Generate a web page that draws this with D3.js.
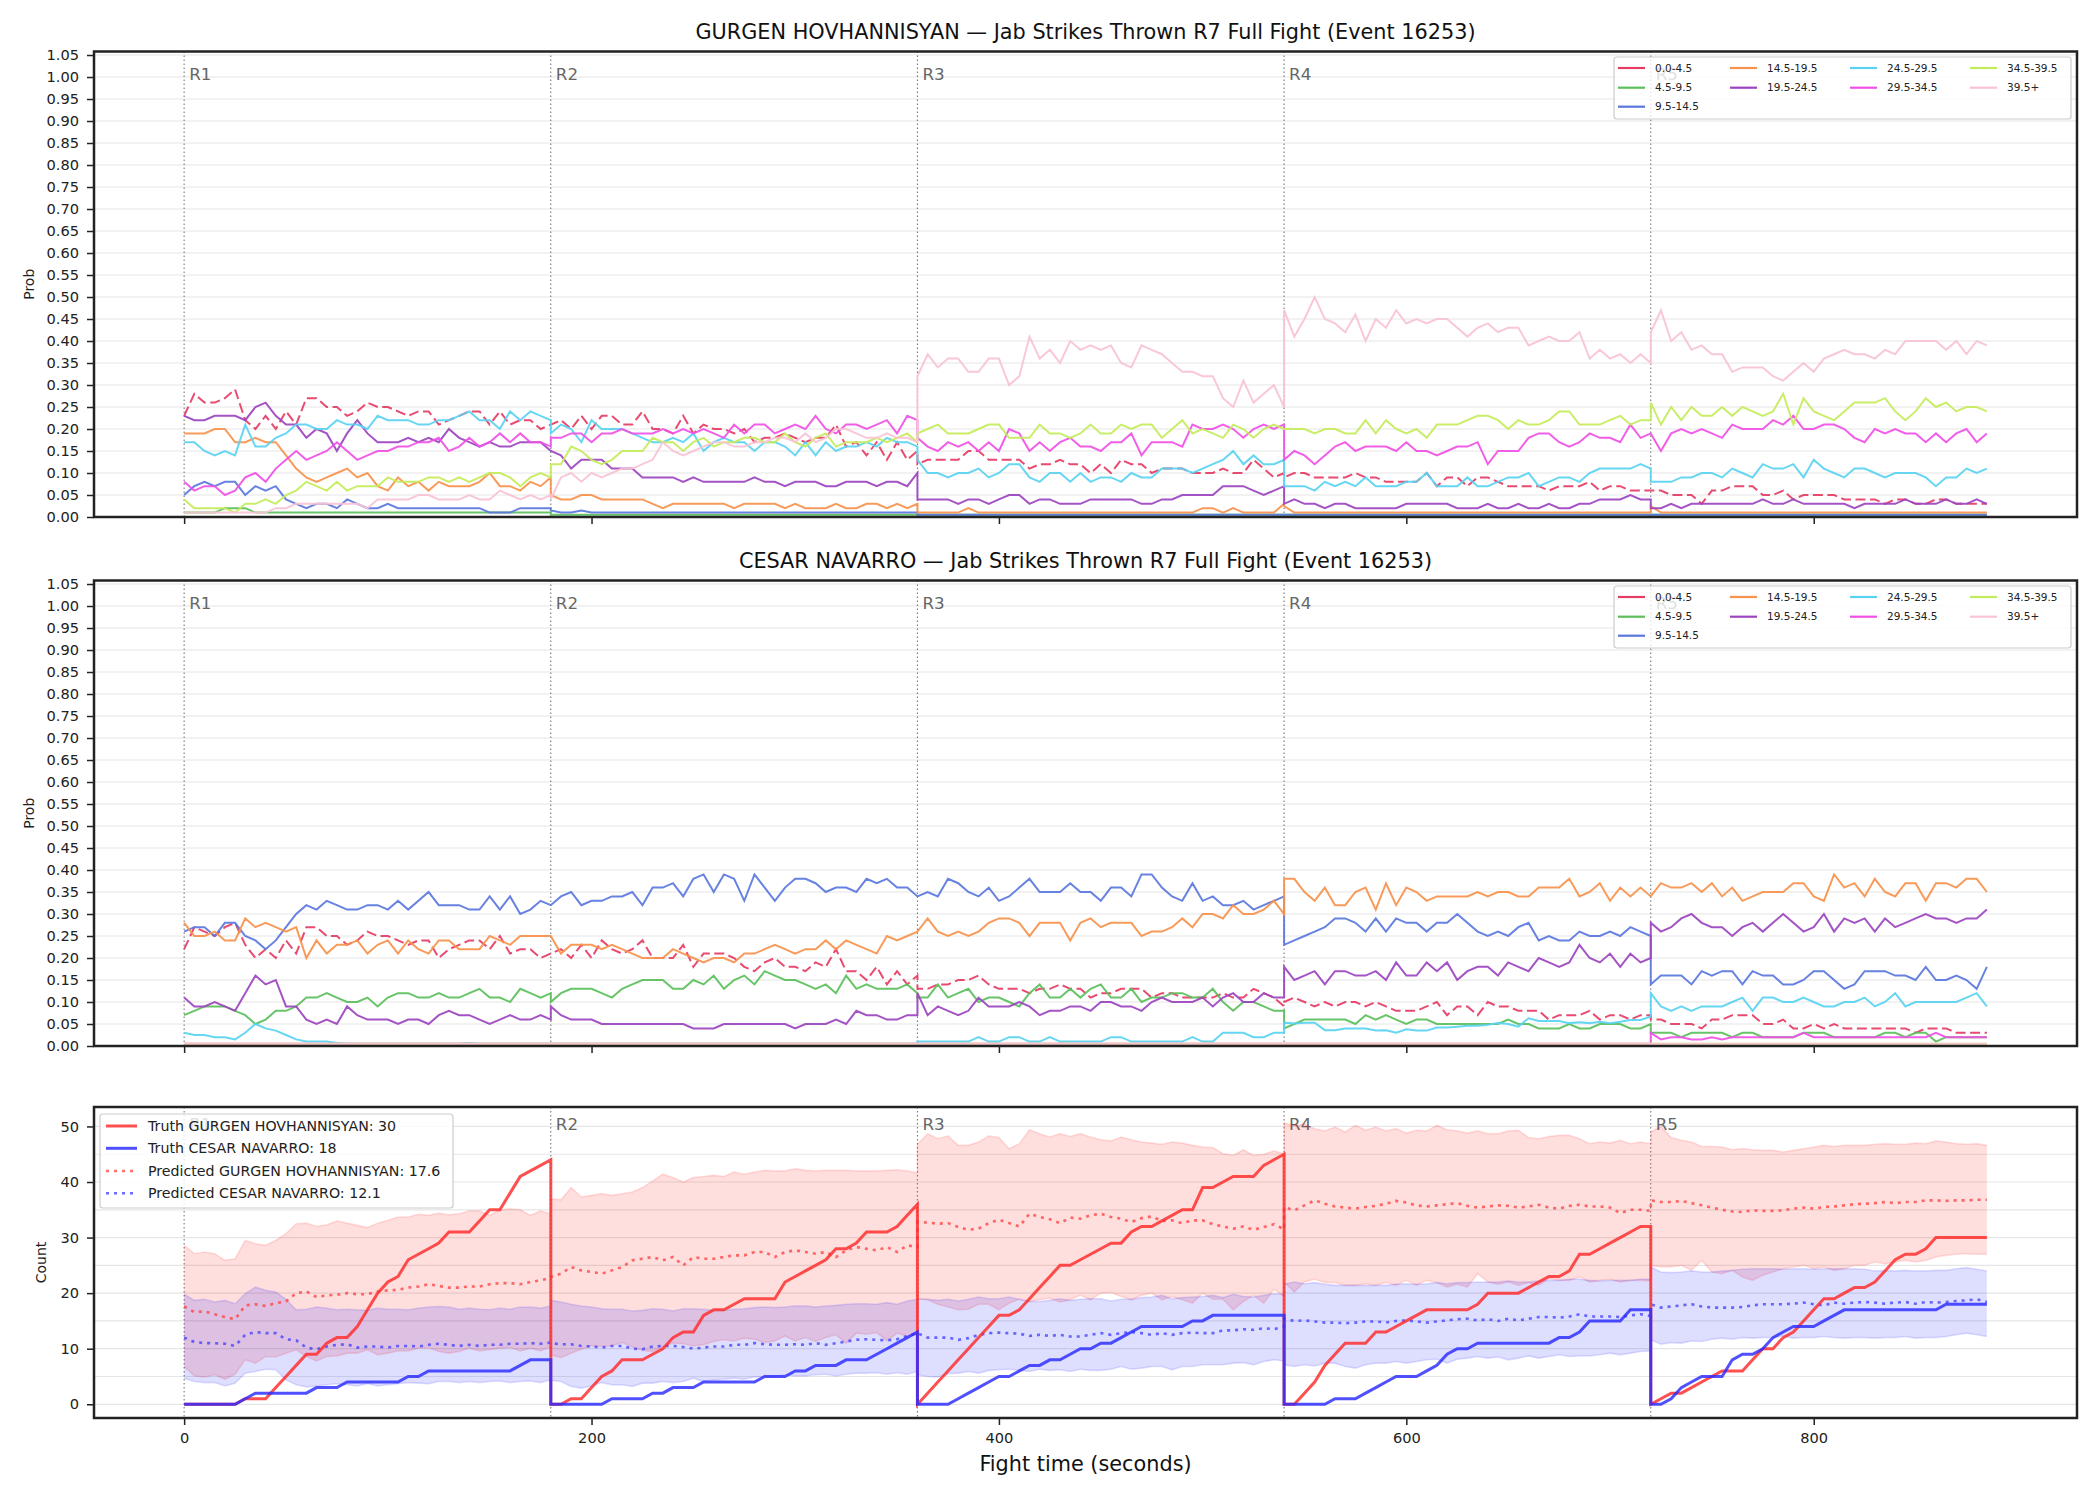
<!DOCTYPE html>
<html lang="en">
<head>
<meta charset="UTF-8">
<title>Jab Strikes Thrown R7 Full Fight (Event 16253)</title>
<style>
  body { margin: 0; background: #fff; }
  svg { display: block; font-family: "DejaVu Sans", sans-serif; }
</style>
<script src="https://d3js.org/d3.v7.min.js"></script>
</head>
<body>
<svg width="2100" height="1500"></svg>
<script>
// ---- rounds / sampling ----
const ROUND_STARTS = [0, 180, 360, 540, 720];
const STEP = 5;           // seconds between samples
const xTicks = [0, 200, 400, 600, 800];

const buckets = ["0.0-4.5", "4.5-9.5", "9.5-14.5", "14.5-19.5", "19.5-24.5", "24.5-29.5", "29.5-34.5", "34.5-39.5", "39.5+"];
const bucketColors = ["#e63c64", "#5bbf5b", "#5a77dd", "#f7934c", "#9c44bf", "#5ad3f2", "#f050e6", "#c4eb5a", "#f9c3d5"];

// near-zero readings (~0.5 %)
const low37 = [0.5,0.5,0.5,0.5,0.5,0.5,0.5,0.5,0.5,0.5,0.5,0.5,0.5,0.5,0.5,0.5,0.5,0.5,0.5,0.5,0.5,0.5,0.5,0.5,0.5,0.5,0.5,0.5,0.5,0.5,0.5,0.5,0.5,0.5,0.5,0.5,0.5];
const low34 = [0.5,0.5,0.5,0.5,0.5,0.5,0.5,0.5,0.5,0.5,0.5,0.5,0.5,0.5,0.5,0.5,0.5,0.5,0.5,0.5,0.5,0.5,0.5,0.5,0.5,0.5,0.5,0.5,0.5,0.5,0.5,0.5,0.5,0.5];

// ---- GURGEN HOVHANNISYAN probabilities (percent), one array per round ----
const gurgen00 = [
  [23,28,26,26,27,29,22,20,23,20,24,21,27,27,25,25,23,24,26,25,25,24,23,24,24,21,22,23,24,24,21,24,21,22,22,20,21],
  [21,22,20,23,20,23,23,21,21,24,20,20,19,23,19,21,20,20,19,20,17,18,18,19,18,17,18,18,21,16,17,14,17,13,17,13,15],
  [12,13,13,13,13,15,15,13,13,13,13,11,12,12,13,12,12,10,12,10,13,12,12,10,11,11,11,10,10,10,11,10,10,13,11,9,10],
  [9,10,10,9,9,9,9,10,9,9,8,8,8,8,10,7,9,9,7,9,9,8,7,7,7,7,6,7,7,7,8,6,7,7,6,6,6],
  [6,6,5,5,5,3,6,6,7,7,7,5,5,6,4,5,5,5,5,4,4,4,4,3,4,4,3,3,4,4,3,3,3,3]
];
const gurgen45 = [
  [1,1,1,1,2,2,2,1,1,1,1,1,1,1,1,1,1,1,1,1,1,1,1,1,1,1,1,1,1,1,1,1,1,1,1,1,1],
  low37, low37, low37, low34
];
const gurgen95 = [
  [5,7,8,7,8,8,5,7,6,7,4,3,2,3,3,2,4,3,2,2,3,2,2,2,2,2,2,2,2,2,1,1,1,2,2,2,2],
  [1.5,1,1,1.5,1,1,1,1,1,1,1,1,1,1,1,1,1,1,1,1,1,1,1,1,1,1,1,1,1,1,1,1,1,1,1,1,1],
  low37, low37, low34
];
const gurgen145 = [
  [19,19,19,20,20,17,17,18,17,17,14,11,9,8,9,10,11,9,10,7,6,9,7,8,6,8,7,7,7,8,10,7,7,6,8,7,9],
  [5,4,4,5,5,4,4,4,4,4,3,2,3,3,3,3,3,3,2,3,3,3,3,2,3,2,2,2,3,2,2,3,3,2,3,2,3],
  [1,1,1,1,1,2,1,1,1,1,1,1,1,1,1,1,1,1,1,1,1,1,1,1,1,1,1,1,2,2,1,2,1,1,1,1,3],
  [2.5,1,1,1,1,1,1,1,1,1,1,1,1,1,1,1,1,1,1,1,1,1,1,1,1,1,1,1,1,1,1,1,1,1,1,1,1],
  [2.5,1,1,1,1,1,1,1,1,1,1,1,1,1,1,1,1,1,1,1,1,1,1,1,1,1,1,1,1,1,1,1,1,1]
];
const gurgen195 = [
  [23,22,22,23,23,23,22,25,26,23,21,21,18,20,19,15,19,22,19,17,17,17,18,17,18,17,20,18,17,16,17,16,16,17,17,17,15],
  [15,14,11,13,13,13,11,11,11,9,9,9,9,8,9,8,8,8,8,8,9,8,8,7,8,8,8,7,7,8,8,8,7,8,8,7,10],
  [4,4,4,4,3,4,4,3,4,5,5,3,4,4,3,3,3,4,4,4,4,4,3,3,4,4,5,5,5,5,7,7,7,6,5,6,7],
  [3,4,3,3,2,3,3,2,2,2,2,2,3,3,3,3,3,2,2,2,3,2,2,3,2,2,3,2,2,3,3,4,4,4,5,4,4],
  [2,2,3,2,3,3,3,3,3,3,3,4,3,3,4,3,3,3,3,3,2,3,3,3,3,4,3,3,3,4,3,3,4,3]
];
const gurgen245 = [
  [17,17,15,14,15,14,21,16,16,18,19,21,21,20,20,22,21,21,20,23,22,22,22,21,21,22,22,23,24,22,22,20,24,22,24,23,22],
  [19,21,20,17,22,20,20,20,19,18,17,17,18,17,19,15,17,18,17,17,15,17,17,16,14,17,14,17,15,16,16,17,16,18,17,17,16],
  [13,10,10,9,10,10,11,9,10,12,12,9,8,10,10,8,10,8,9,9,8,10,9,9,11,11,11,10,11,12,13,15,12,14,12,12,13],
  [7,7,7,6,8,7,8,7,9,7,7,7,8,8,10,7,7,7,9,7,7,8,9,9,10,7,8,9,9,8,10,11,11,11,11,12,11],
  [8,8,8,9,9,10,10,9,11,10,9,12,11,11,12,9,13,11,10,9,11,11,10,9,10,10,10,9,7,9,9,11,10,11]
];
const gurgen295 = [
  [8,6,7,7,5,6,9,10,8,11,13,15,13,14,15,17,15,13,14,15,15,16,16,17,17,18,15,16,18,16,17,19,17,19,17,17,16],
  [18,18,19,19,17,19,19,20,19,19,19,20,19,20,19,20,19,18,21,19,21,21,19,20,21,20,23,20,19,21,21,20,21,22,19,23,22],
  [18,16,15,17,16,17,15,17,15,20,19,15,17,15,17,18,16,16,15,17,17,19,14,17,17,17,16,21,20,20,21,20,18,20,21,20,21],
  [13,15,14,12,14,16,17,15,16,16,16,15,17,15,15,14,15,16,16,17,12,15,15,15,18,19,19,17,16,17,19,18,18,17,21,18,19],
  [19,15,19,20,19,20,19,18,21,20,20,20,22,21,23,20,20,21,21,20,18,17,20,19,20,19,19,17,19,17,19,20,17,19]
];
const gurgen345 = [
  [4,2,2,2,2,1,3,3,4,3,5,6,8,7,6,8,6,7,7,7,9,8,8,8,9,9,8,9,8,9,10,10,9,7,9,10,9],
  [12,12,16,15,13,12,13,15,15,15,18,17,17,15,17,18,16,17,17,18,18,17,17,19,17,16,18,19,16,17,17,17,18,17,18,19,17],
  [19,20,21,19,19,19,20,21,21,18,18,18,21,19,19,18,19,21,19,19,21,20,21,21,18,20,22,19,20,19,18,21,20,18,20,21,20],
  [20,20,20,19,20,20,19,19,22,19,22,20,19,20,18,21,21,21,22,23,23,22,20,22,21,21,22,24,24,21,21,21,22,23,21,22,22],
  [26,21,25,22,25,23,23,25,23,25,24,23,24,28,21,27,24,23,22,24,26,26,26,27,24,22,24,27,25,26,24,25,25,24]
];
const gurgen395 = [
  [1,1,1,1,1,1,1,1,1,2,2,3,3,3,3,3,3,3,2,4,4,4,4,5,5,4,4,4,5,4,4,6,5,4,5,4,5],
  [4,9,10,8,10,9,10,11,11,12,13,17,15,14,15,16,17,17,16,16,17,17,18,18,17,19,17,18,20,20,19,18,18,19,18,18,17],
  [32,37,34,36,36,33,33,36,36,30,32,41,36,38,35,40,38,39,38,39,35,34,39,38,37,35,33,33,32,32,27,25,31,26,28,30,25],
  [47,41,45,50,45,44,42,46,40,45,43,47,44,45,44,45,45,43,41,43,44,42,43,43,39,40,41,40,40,42,36,38,36,37,35,37,35],
  [42,47,40,42,38,39,37,37,33,34,34,34,32,31,33,35,33,36,37,38,37,37,36,38,37,40,40,40,40,38,40,37,40,39]
];

// ---- CESAR NAVARRO probabilities (percent) ----
const cesar00 = [
  [22,27,26,25,27,28,23,20,22,20,24,21,27,27,25,25,23,24,26,25,25,24,23,24,24,20,22,23,24,24,22,25,21,22,22,20,21],
  [21,22,20,23,20,24,22,21,22,24,20,20,20,23,18,21,21,21,20,18,17,19,20,18,18,17,19,18,22,17,17,15,18,14,17,14,16],
  [13,13,14,14,15,15,16,14,13,13,13,12,13,13,14,13,13,11,12,12,13,13,13,11,12,12,11,11,11,11,12,11,11,13,12,11,9],
  [10,11,10,9,10,9,10,10,9,10,9,8,8,8,9,10,7,9,9,7,10,9,9,8,8,8,6,7,7,7,8,6,7,7,6,7,7],
  [6,6,5,5,5,4,6,6,7,7,7,5,5,6,4,4,5,4,5,4,4,4,4,4,4,4,3,4,4,4,3,3,3,3]
];
const cesar45 = [
  [7,8,9,9,9,8,7,5,6,8,8,9,11,11,12,11,10,10,11,9,11,12,12,11,11,12,11,11,12,13,11,11,10,13,12,11,12],
  [10,12,13,13,13,12,11,13,14,15,15,15,13,13,15,14,16,13,15,16,14,17,16,15,15,14,13,14,12,16,13,14,13,13,13,14,12],
  [11,11,14,11,12,13,10,11,11,10,9,12,14,11,11,13,11,13,14,11,11,13,10,11,11,12,12,11,11,13,10,8,10,10,9,8,8],
  [4,5,6,6,6,6,6,5,7,6,7,6,5,6,6,5,5,5,5,5,5,5,6,5,5,4,4,4,5,4,4,5,5,5,4,4,5],
  [3,3,3,2,3,3,3,3,2,3,3,2,2,2,2,3,3,3,2,2,2,2,2,3,3,2,3,3,1,2,2,2,2,2]
];
const cesar95 = [
  [26,27,27,25,28,28,25,24,22,24,27,30,32,31,33,32,31,31,32,32,31,33,31,33,35,32,32,32,31,31,34,31,34,30,31,33,32],
  [32,34,35,32,33,33,34,34,35,32,36,36,37,34,38,39,35,39,38,33,39,36,33,36,38,38,37,35,36,36,35,38,37,38,36,36,34],
  [34,35,34,38,37,35,34,36,33,34,36,38,35,35,35,37,35,35,33,36,36,34,39,39,36,34,33,37,33,34,32,32,33,31,32,33,34],
  [23,24,25,26,27,29,29,28,26,29,26,29,28,28,26,28,28,30,28,26,25,26,25,27,28,24,25,24,24,26,25,25,26,25,27,26,25],
  [14,16,16,16,14,17,16,17,17,14,17,16,16,14,14,15,17,17,15,13,14,17,17,17,16,16,15,18,15,15,16,15,13,18]
];
const cesar145 = [
  [28,25,25,26,24,24,29,27,28,27,26,27,20,24,21,23,23,24,21,23,24,21,24,22,21,24,24,22,22,22,25,24,23,25,25,25,25],
  [25,21,23,23,23,22,23,22,21,20,20,20,22,21,20,19,20,20,19,21,21,22,23,22,21,22,22,24,22,24,23,22,21,25,24,25,26],
  [26,29,26,25,26,25,26,28,29,29,28,25,28,28,28,24,28,29,27,28,28,28,25,26,26,27,29,27,30,30,29,32,30,30,31,33,30],
  [38,38,35,33,36,32,32,35,36,31,37,32,36,35,33,34,34,34,34,35,34,35,35,34,34,36,36,36,38,34,35,37,33,36,34,36,34],
  [34,37,36,36,37,35,37,34,36,33,34,35,35,35,37,37,34,33,39,36,37,34,38,35,34,37,37,33,37,37,36,38,38,35]
];
const cesar195 = [
  [11,9,9,10,9,8,12,16,14,15,9,9,6,5,6,5,9,7,6,6,6,5,6,6,5,7,8,7,7,6,5,6,7,6,6,7,6],
  [9,7,6,6,6,5,5,5,5,5,5,5,5,5,4,4,4,5,5,5,5,5,5,5,4,5,5,5,6,5,8,7,7,6,6,7,7],
  [12,7,9,8,7,8,11,9,9,9,10,9,7,8,8,9,9,8,10,10,9,9,8,10,11,10,10,10,11,9,11,12,10,10,12,11,11],
  [18,15,16,17,14,17,17,16,16,17,15,19,16,16,19,17,19,15,17,18,18,16,19,18,17,20,19,18,19,23,20,19,21,18,21,19,20],
  [28,26,27,29,30,28,27,27,25,27,28,26,28,30,28,26,27,30,26,29,28,29,26,29,27,28,29,30,29,29,28,29,29,31]
];
const cesar245 = [
  [3,2.5,2.5,2,2,1.5,3,5,4,3.5,2.5,1.5,1,1,1,0.7,0.5,0.5,0.5,0.5,0.5,0.5,0.5,0.5,0.5,0.5,0.5,0.5,0.7,0.5,0.5,0.5,0.5,0.5,0.5,0.5,0.5],
  low37,
  [1,1,1,1,1,1,2,1,1,2,2,1,1,2,1,1,1,1,1,2,2,1,1,1,1,1,1,2,1,1,3,3,3,2,2,3,3],
  [5.3,5.1,5.3,5.3,3.6,3.6,4,4,4,3.5,3.6,3,3.8,3.5,3.5,4.2,4.2,4.4,4.6,4.6,4.8,5.2,5,4.4,6.3,5.7,5.7,5.7,5.2,5.4,5.2,5.5,5.2,5.5,5.9,5.9,6.7],
  [12,9,8,9,8,9,9,9,10,11,8,11,11,10,10,11,10,9,9,10,10,11,9,10,12,9,10,10,10,10,10,11,12,9]
];
const cesar295 = [
  low37, low37, low37, low37,
  [3,1.5,2,2,1.5,1.5,2,1.5,2,2,2,2,2,2,2,3,2,2,2,2,2,2,2,2,2,2,2,2,3,2,2,2,2,2]
];
const cesar345 = [low37, low37, low37, low37, low34];
const cesar395 = [low37, low37, low37, low37, low34];

// ---- counts panel ----
const truthGurgen = [
  [0,0,0,0,0,0,1,1,1,3,5,7,9,9,11,12,12,14,17,20,22,23,26,27,28,29,31,31,31,33,35,35,38,41,42,43,44],
  [0,0,1,1,3,5,6,8,8,8,9,10,12,13,13,16,17,17,18,19,19,19,19,22,23,24,25,26,28,28,29,31,31,31,32,34,36],
  [0,2,4,6,8,10,12,14,16,16,17,19,21,23,25,25,26,27,28,29,29,31,32,32,33,34,35,35,39,39,40,41,41,41,43,44,45],
  [0,0,2,4,7,9,11,11,11,13,13,14,15,16,17,17,17,17,17,18,20,20,20,20,21,22,23,23,24,27,27,28,29,30,31,32,32],
  [0,1,2,2,3,4,5,6,6,6,8,10,10,12,13,15,17,19,19,20,21,21,22,24,26,27,27,28,30,30,30,30,30,30]
];
const truthCesar = [
  [0,0,0,0,0,0,1,2,2,2,2,2,2,3,3,3,4,4,4,4,4,4,5,5,6,6,6,6,6,6,6,6,6,7,8,8,8],
  [0,0,0,0,0,0,1,1,1,1,2,2,3,3,3,4,4,4,4,4,4,5,5,5,6,6,7,7,7,8,8,8,9,10,11,12,13],
  [0,0,0,0,1,2,3,4,5,5,6,7,7,8,8,9,10,10,11,11,12,13,14,14,14,14,14,15,15,16,16,16,16,16,16,16,16],
  [0,0,0,0,0,1,1,1,2,3,4,5,5,5,6,7,9,10,10,11,11,11,11,11,11,11,11,12,12,13,15,15,15,15,17,17,17],
  [0,0,1,3,4,5,5,5,8,9,9,10,12,13,14,14,14,15,16,17,17,17,17,17,17,17,17,17,17,18,18,18,18,18]
];
const predGurgen = [
  [17.6,16.6,16.7,16.2,15.7,15.3,17.8,18.0,17.7,18.2,18.5,20.0,20.3,19.3,19.6,19.7,20.0,19.8,19.8,20.3,20.5,20.6,21.0,21.2,21.6,21.3,21.0,21.0,21.2,21.2,21.6,21.8,21.8,21.6,22.0,22.3,22.8],
  [22.9,23.5,24.7,24.1,23.8,23.5,24.1,24.7,25.9,26.2,26.5,25.9,26.5,25.0,26.5,26.2,26.2,26.5,26.8,26.8,27.4,27.4,26.5,27.4,27.7,27.4,27.1,27.4,26.5,27.7,28.3,28.0,27.7,28.3,27.4,28.6,28.3],
  [32.8,32.7,32.5,32.6,31.9,31.4,31.6,32.6,33.2,32.6,32.0,34.3,33.7,33.3,32.6,33.6,33.4,34.0,34.3,33.7,33.4,32.8,33.5,33.8,33.0,33.1,32.6,33.1,33.1,32.4,32.0,31.6,32.0,31.4,31.9,32.4,31.5],
  [35.5,34.9,35.8,36.7,36.1,35.6,35.4,35.2,35.5,35.7,36.1,36.6,36.3,35.8,35.6,35.8,36.0,36.2,35.7,35.4,35.6,35.8,35.7,35.4,35.6,35.9,35.4,35.2,35.7,35.9,35.6,35.6,35.4,34.4,35.0,35.0,34.8],
  [36.7,36.4,36.4,36.6,36.2,35.8,35.4,35.0,34.7,34.6,34.9,34.8,34.8,34.9,35.2,35.4,35.2,35.5,35.6,35.8,36.0,36.1,36.2,36.4,36.2,36.4,36.4,36.7,36.7,36.6,36.7,36.7,36.8,36.8]
];
const predCesar = [
  [12.0,11.2,11.0,11.0,10.9,10.5,12.5,13.0,12.8,12.8,11.7,11.5,10.2,9.9,10.4,10.7,10.8,10.2,10.4,10.4,10.2,10.5,10.5,10.4,10.7,10.9,10.7,10.5,10.7,10.5,10.7,10.7,10.9,10.9,11.0,10.9,11.1],
  [11.0,10.8,10.8,10.5,10.4,10.2,10.5,10.5,10.0,9.9,10.4,10.5,10.5,10.3,10.0,10.2,10.4,10.4,10.7,10.7,11.0,10.8,10.7,10.7,10.8,10.7,11.0,10.7,11.0,11.3,11.6,11.7,11.6,11.5,11.7,12.3,12.8],
  [12.8,12.0,12.0,12.0,11.6,11.9,12.5,12.8,12.9,12.8,12.7,12.3,12.5,12.3,12.5,12.2,12.2,12.5,12.8,12.5,12.8,13.0,12.8,12.5,12.8,12.5,12.8,12.9,12.8,12.8,13.3,13.3,13.5,13.4,13.7,13.5,14.0],
  [15.4,15.0,15.1,14.9,14.7,14.7,14.6,14.7,14.9,14.9,14.7,15.0,15.1,14.9,14.7,14.9,15.1,15.3,15.4,15.1,15.3,15.0,15.4,15.1,15.4,15.7,15.7,15.6,15.8,16.2,15.8,15.8,15.8,15.7,16.0,16.2,15.9],
  [18.0,17.4,17.6,17.8,18.0,17.6,17.4,17.4,17.4,17.5,17.8,18.0,18.0,18.0,18.1,18.3,18.0,17.8,18.3,18.1,18.3,18.4,18.3,18.1,18.3,18.4,18.1,18.4,18.3,18.4,18.6,18.7,18.9,18.4]
];
const bandHiGurgen = [
  [28.6,27.1,27.4,27.1,25.9,26.2,29.5,28.9,28.6,29.5,30.7,32.5,32.6,32.0,32.3,33.0,32.6,32.2,31.8,32.6,33.1,33.7,33.7,34.2,34.0,34.4,34.1,34.3,34.8,34.8,34.0,35.0,35.2,35.0,34.0,34.8,34.3],
  [37.0,36.8,39.0,37.3,37.6,37.9,37.6,37.9,38.2,39.0,40.2,41.4,40.8,40.0,40.8,41.0,41.2,41.0,41.8,41.4,41.8,42.1,42.0,42.0,42.4,42.1,42.0,42.1,42.1,42.1,42.0,42.0,42.0,42.1,42.2,42.0,41.6],
  [46.8,48.7,47.8,48.3,46.6,46.6,47.2,48.3,48.0,46.0,46.9,49.4,48.7,48.1,48.7,48.2,48.7,48.1,47.6,47.4,48.1,47.6,47.2,47.0,46.8,47.2,47.0,46.6,46.3,46.2,45.1,44.8,45.8,44.8,45.0,45.6,45.1],
  [50.6,50.2,50.4,49.6,49.2,49.9,49.0,50.2,49.3,49.9,49.2,49.6,48.8,49.3,49.2,50.2,49.4,49.2,48.8,49.2,48.7,48.7,49.2,49.3,48.0,47.8,48.2,48.4,48.4,47.8,46.9,47.2,47.0,47.5,46.9,47.2,46.9],
  [49.0,50.0,48.0,47.5,47.2,46.4,46.4,46.3,45.8,46.0,45.8,45.7,45.7,45.4,45.7,46.0,46.3,46.6,46.4,46.6,46.6,46.6,46.8,46.9,46.8,46.8,47.0,46.9,47.4,47.2,46.9,46.8,46.9,46.6]
];
const bandLoGurgen = [
  [6.8,5.1,4.9,5.3,4.5,5.4,8.0,7.4,8.6,8.5,9.2,9.8,8.6,7.8,8.6,8.7,9.2,9.2,9.8,8.9,9.2,9.6,9.6,10.1,10.2,9.5,9.2,9.5,10.1,9.6,9.8,10.1,10.2,9.6,10.1,9.6,10.4],
  [8.9,8.4,9.2,9.9,10.5,10.4,10.5,11.1,10.3,9.7,9.5,10.4,11.0,10.9,10.5,10.7,11.3,11.6,11.4,11.9,11.7,11.1,11.4,12.3,11.4,12.0,11.3,12.0,12.5,11.0,12.8,12.6,12.9,11.4,12.8,12.3,12.6],
  [19.0,18.8,18.0,17.5,17.0,17.1,18.0,18.0,17.0,18.2,18.9,18.5,18.8,19.1,18.4,18.8,19.6,18.8,20.0,20.1,19.4,18.8,19.6,20.0,18.8,19.4,18.8,18.2,20.0,18.9,18.9,17.0,18.5,19.6,18.2,20.7,19.4],
  [22.0,20.2,22.0,22.5,21.9,21.9,21.4,21.4,21.7,21.4,21.9,21.4,22.3,21.4,22.3,21.9,21.1,21.6,21.1,23.5,22.0,21.6,22.0,21.4,21.9,21.4,22.6,22.3,22.3,22.9,22.0,22.3,22.5,22.0,22.3,22.3,22.2],
  [25.0,24.7,24.7,25.0,24.1,25.9,23.8,23.5,24.1,22.9,22.3,23.2,23.8,24.4,24.7,25.0,24.4,24.7,24.1,24.4,25.0,25.0,25.6,25.3,25.6,25.9,25.6,25.9,26.5,26.8,27.0,27.1,27.0,27.0]
];
const bandHiCesar = [
  [19.8,18.7,18.9,18.4,18.7,18.1,19.9,21.1,20.5,20.2,18.9,17.0,17.1,17.5,17.3,17.0,17.1,17.0,16.9,17.3,17.1,17.1,17.0,17.3,17.5,17.6,17.5,17.1,17.3,17.1,17.0,17.3,17.1,17.5,17.5,17.3,17.7],
  [18.7,18.4,18.0,17.7,17.5,17.2,17.1,17.1,16.8,16.9,17.2,17.1,16.8,17.2,17.2,17.1,16.9,16.9,17.1,17.2,17.4,17.5,17.4,17.5,17.7,17.7,17.5,17.7,17.8,18.0,18.1,18.1,18.0,18.3,18.0,18.6,18.9],
  [18.9,18.9,18.7,18.9,18.6,18.9,19.3,19.0,19.0,19.3,18.9,18.5,18.5,18.7,19.0,18.7,18.9,19.0,19.0,18.6,18.9,18.9,19.2,19.3,19.6,19.0,19.2,19.3,19.4,19.6,19.2,19.8,19.4,19.3,19.6,19.9,19.8],
  [21.6,22.0,21.7,21.9,21.6,21.4,21.4,21.4,21.4,21.4,21.4,21.6,21.7,21.6,21.7,21.9,21.7,21.9,21.9,22.0,22.0,22.0,22.2,22.0,22.0,22.2,22.3,22.3,22.5,22.5,22.3,22.2,22.3,22.3,22.3,22.5,22.5],
  [24.7,23.8,23.7,23.8,24.0,23.8,23.8,24.0,24.1,24.3,24.4,24.4,24.4,24.3,24.4,24.4,24.3,24.4,24.4,24.4,24.4,24.3,24.0,24.1,24.0,24.1,24.0,24.0,24.1,24.1,24.4,24.6,24.3,24.0]
];
const bandLoCesar = [
  [4.7,4.1,3.9,3.9,3.3,3.8,5.6,5.9,6.3,6.2,4.4,3.5,3.1,3.3,3.5,3.7,3.5,3.3,3.7,3.3,3.5,3.7,3.9,3.8,3.7,4.1,4.1,3.9,4.1,3.9,4.1,4.2,3.9,4.1,4.2,3.9,4.4],
  [4.3,4.1,3.2,2.9,3.3,3.9,3.5,3.5,3.2,3.8,3.8,4.1,3.9,4.1,4.7,4.1,4.4,4.5,4.7,4.5,4.9,4.9,5.0,5.3,5.1,5.1,5.3,5.4,5.1,5.4,5.6,5.6,5.7,5.4,5.7,5.4,5.9],
  [5.3,5.0,4.9,5.5,5.6,5.9,5.6,6.1,6.2,6.3,6.1,5.9,6.3,6.1,6.2,5.9,6.3,6.1,6.1,6.3,6.8,6.3,6.5,6.8,6.8,6.2,6.8,6.8,7.1,7.1,7.1,7.4,7.5,7.1,7.7,8.0,7.8],
  [7.1,6.8,7.1,6.9,7.4,7.4,6.8,6.5,7.1,7.4,7.4,7.7,7.4,7.7,8.0,8.1,7.4,8.1,8.3,8.6,8.3,8.5,8.0,8.3,8.7,8.3,8.6,8.9,8.6,8.7,8.7,8.9,9.2,8.9,9.2,9.5,9.6],
  [11.6,10.8,11.1,11.0,11.4,11.3,11.7,11.9,11.7,12.0,11.9,12.0,12.0,12.3,11.9,12.0,12.0,12.2,12.0,11.9,12.0,12.0,11.9,12.0,12.0,12.2,11.9,12.0,12.0,12.2,12.5,12.8,12.5,12.2]
];

const gurgenProb = [gurgen00, gurgen45, gurgen95, gurgen145, gurgen195, gurgen245, gurgen295, gurgen345, gurgen395];
const cesarProb = [cesar00, cesar45, cesar95, cesar145, cesar195, cesar245, cesar295, cesar345, cesar395];

// ---- helpers ----
function roundsToPoints(rounds, k) {
  const out = [];
  rounds.forEach((vals, r) => vals.forEach((v, i) => out.push({ t: ROUND_STARTS[r] + i * STEP, v: v * k })));
  return out;
}
function bandPoints(hi, lo) {
  const out = [];
  hi.forEach((vals, r) => vals.forEach((v, i) => out.push({ t: ROUND_STARTS[r] + i * STEP, hi: v, lo: lo[r][i] })));
  return out;
}

const svg = d3.select("svg");
svg.append("rect").attr("width", 2100).attr("height", 1500).attr("fill", "#fff");

const X0 = 94, X1 = 2077;
const x = d3.scaleLinear().domain([-44.25, 929.25]).range([X0, X1]);
const FONT = "DejaVu Sans";

function basePanel(id, top, bottom, y, gridVals, labelDy) {
  const g = svg.append("g");
  g.selectAll(null).data(gridVals).join("line")
    .attr("x1", X0).attr("x2", X1)
    .attr("y1", d => y(d)).attr("y2", d => y(d))
    .attr("stroke", "#e6e6e6").attr("stroke-width", 1.2);
  g.selectAll(null).data(ROUND_STARTS).join("line")
    .attr("x1", d => x(d)).attr("x2", d => x(d))
    .attr("y1", top).attr("y2", bottom)
    .attr("stroke", "#777").attr("stroke-width", 1.1).attr("stroke-dasharray", "1.5,2.5");
  g.selectAll(null).data(ROUND_STARTS).join("text")
    .attr("x", d => x(d) + 5).attr("y", top + labelDy)
    .attr("font-size", 16.7).attr("fill", "#666")
    .text((d, i) => "R" + (i + 1));
  svg.append("clipPath").attr("id", id).append("rect")
    .attr("x", X0).attr("y", top).attr("width", X1 - X0).attr("height", bottom - top);
  return svg.append("g").attr("clip-path", `url(#${id})`);
}

function finishPanel(top, bottom, y, tickVals, fmt, showXLabels) {
  const ya = svg.append("g").attr("transform", `translate(${X0},0)`)
    .call(d3.axisLeft(y).tickValues(tickVals).tickFormat(fmt).tickSize(7).tickPadding(8));
  ya.attr("font-family", FONT).attr("font-size", 14.6);
  ya.select(".domain").remove();
  ya.selectAll("line").attr("stroke", "#222").attr("stroke-width", 1.5);
  ya.selectAll("text").attr("fill", "#222");

  const xa = svg.append("g").attr("transform", `translate(0,${bottom})`)
    .call(d3.axisBottom(x).tickValues(xTicks).tickSize(7).tickPadding(8)
      .tickFormat(showXLabels ? d3.format("d") : () => ""));
  xa.attr("font-family", FONT).attr("font-size", 14.6);
  xa.select(".domain").remove();
  xa.selectAll("line").attr("stroke", "#222").attr("stroke-width", 1.5);
  xa.selectAll("text").attr("fill", "#222");

  svg.append("rect").attr("x", X0).attr("y", top)
    .attr("width", X1 - X0).attr("height", bottom - top)
    .attr("fill", "none").attr("stroke", "#222").attr("stroke-width", 2.5);
}

function yLabel(text, cx, top, bottom) {
  svg.append("text")
    .attr("transform", `translate(${cx},${(top + bottom) / 2}) rotate(-90)`)
    .attr("text-anchor", "middle").attr("dy", "0.35em")
    .attr("font-size", 14).attr("fill", "#222").text(text);
}

function probLegend(top) {
  const cols = [1618, 1730, 1850, 1970];
  const rows = [16.5, 36.2, 55.2];
  const layout = [[0, 1, 2], [3, 4], [5, 6], [7, 8]];
  const g = svg.append("g");
  g.append("rect").attr("x", 1614).attr("y", top + 5.5).attr("width", 457).attr("height", 62)
    .attr("rx", 3).attr("fill", "#fff").attr("fill-opacity", 0.8)
    .attr("stroke", "#cccccc").attr("stroke-width", 1.2);
  layout.forEach((list, c) => list.forEach((k, r) => {
    const yy = top + rows[r];
    g.append("line").attr("x1", cols[c]).attr("x2", cols[c] + 27).attr("y1", yy).attr("y2", yy)
      .attr("stroke", bucketColors[k]).attr("stroke-width", 2.2);
    g.append("text").attr("x", cols[c] + 37).attr("y", yy).attr("dy", "0.36em")
      .attr("font-size", 10.5).attr("fill", "#222").text(buckets[k]);
  }));
}

const probTicks = d3.range(0, 1.0501, 0.05);

function drawProbPanel(idx, top, bottom, title, titleY, series) {
  const y = d3.scaleLinear().domain([0, 1.058]).range([bottom, top]);
  const plot = basePanel("clip" + idx, top, bottom, y, probTicks, 28);
  const line = d3.line().x(d => x(d.t)).y(d => y(d.v));
  series.forEach((rounds, k) => {
    plot.append("path").datum(roundsToPoints(rounds, 0.01))
      .attr("d", line)
      .attr("fill", "none").attr("stroke", bucketColors[k])
      .attr("stroke-width", 2).attr("stroke-opacity", 0.92)
      .attr("stroke-dasharray", k === 0 ? "10,4.5" : null);
  });
  finishPanel(top, bottom, y, probTicks, d3.format(".2f"), false);
  svg.append("text").attr("x", (X0 + X1) / 2).attr("y", titleY)
    .attr("text-anchor", "middle").attr("font-size", 20.8).attr("fill", "#111").text(title);
  yLabel("Prob", 29, top, bottom);
  probLegend(top);
}

drawProbPanel(1, 51.5, 517, "GURGEN HOVHANNISYAN — Jab Strikes Thrown R7 Full Fight (Event 16253)", 38.5, gurgenProb);
drawProbPanel(2, 580.5, 1046, "CESAR NAVARRO — Jab Strikes Thrown R7 Full Fight (Event 16253)", 567.5, cesarProb);

// ---- counts panel ----
(function () {
  const top = 1107, bottom = 1418;
  const y = d3.scaleLinear().domain([-2.47, 53.5]).range([bottom, top]);
  const plot = basePanel("clip3", top, bottom, y, d3.range(0, 51, 5), 23);
  const area = d3.area().x(d => x(d.t)).y0(d => y(d.lo)).y1(d => y(d.hi));
  const line = d3.line().x(d => x(d.t)).y(d => y(d.v));
  const bands = [
    { pts: bandPoints(bandHiGurgen, bandLoGurgen), color: "#ff0000" },
    { pts: bandPoints(bandHiCesar, bandLoCesar), color: "#0000ff" }
  ];
  bands.forEach(b => {
    plot.append("path").datum(b.pts).attr("d", area)
      .attr("fill", b.color).attr("fill-opacity", 0.13).attr("stroke", "none");
    ["hi", "lo"].forEach(key => {
      plot.append("path").datum(b.pts)
        .attr("d", d3.line().x(d => x(d.t)).y(d => y(d[key])))
        .attr("fill", "none").attr("stroke", b.color).attr("stroke-opacity", 0.12).attr("stroke-width", 1.6);
    });
  });
  plot.append("path").datum(roundsToPoints(predGurgen, 1)).attr("d", line)
    .attr("fill", "none").attr("stroke", "#ff3b3b").attr("stroke-opacity", 0.75)
    .attr("stroke-width", 2.6).attr("stroke-dasharray", "3,5");
  plot.append("path").datum(roundsToPoints(predCesar, 1)).attr("d", line)
    .attr("fill", "none").attr("stroke", "#3b3bff").attr("stroke-opacity", 0.75)
    .attr("stroke-width", 2.6).attr("stroke-dasharray", "3,5");
  plot.append("path").datum(roundsToPoints(truthGurgen, 1)).attr("d", line)
    .attr("fill", "none").attr("stroke", "#ff2a2a").attr("stroke-opacity", 0.82).attr("stroke-width", 3);
  plot.append("path").datum(roundsToPoints(truthCesar, 1)).attr("d", line)
    .attr("fill", "none").attr("stroke", "#2a2aff").attr("stroke-opacity", 0.82).attr("stroke-width", 3);

  finishPanel(top, bottom, y, [0, 10, 20, 30, 40, 50], d3.format("d"), true);
  yLabel("Count", 41, top, bottom);
  svg.append("text").attr("x", (X0 + X1) / 2).attr("y", 1471)
    .attr("text-anchor", "middle").attr("font-size", 20.8).attr("fill", "#111").text("Fight time (seconds)");

  // legend
  const items = [
    { label: "Truth GURGEN HOVHANNISYAN: 30", color: "#ff2a2a", dash: null, op: 0.82 },
    { label: "Truth CESAR NAVARRO: 18", color: "#2a2aff", dash: null, op: 0.82 },
    { label: "Predicted GURGEN HOVHANNISYAN: 17.6", color: "#ff3b3b", dash: "3,5", op: 0.75 },
    { label: "Predicted CESAR NAVARRO: 12.1", color: "#3b3bff", dash: "3,5", op: 0.75 }
  ];
  const rows = [1126, 1148.3, 1171, 1193.3];
  const lg = svg.append("g");
  lg.append("rect").attr("x", 100).attr("y", 1114).attr("width", 353).attr("height", 94)
    .attr("rx", 3).attr("fill", "#fff").attr("fill-opacity", 0.8)
    .attr("stroke", "#cccccc").attr("stroke-width", 1.2);
  items.forEach((it, i) => {
    lg.append("line").attr("x1", 106).attr("x2", 137).attr("y1", rows[i]).attr("y2", rows[i])
      .attr("stroke", it.color).attr("stroke-opacity", it.op).attr("stroke-width", it.dash ? 2.6 : 3)
      .attr("stroke-dasharray", it.dash);
    lg.append("text").attr("x", 148).attr("y", rows[i]).attr("dy", "0.36em")
      .attr("font-size", 14.2).attr("fill", "#222").text(it.label);
  });
})();
</script>
</body>
</html>
